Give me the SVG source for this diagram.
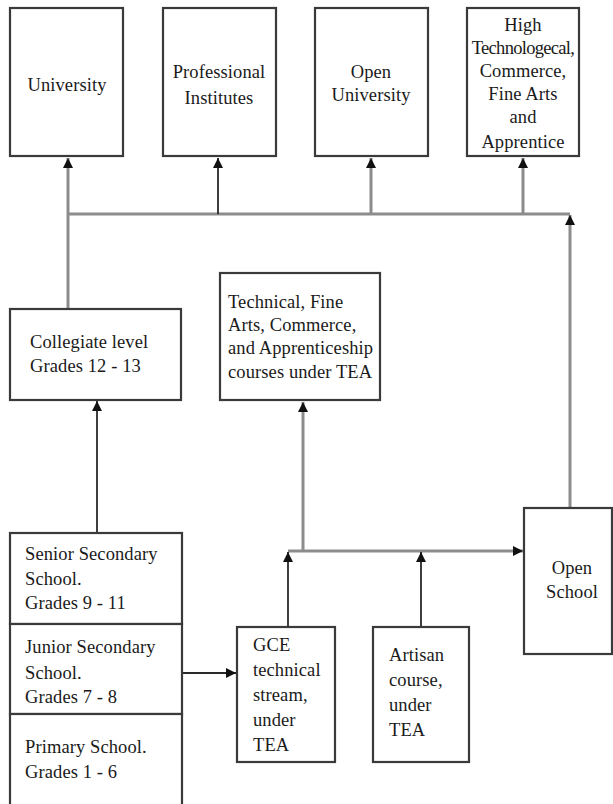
<svg xmlns="http://www.w3.org/2000/svg" width="613" height="804" viewBox="0 0 613 804">
<style>
.box{fill:#fff;stroke:#3a3a3a;stroke-width:2.2}
.t{font-family:"Liberation Serif","Times New Roman",serif;font-size:18.5px;fill:#1a1a1a;letter-spacing:0.1px}
.c{text-anchor:middle}
.g{stroke:#8c8c8c;stroke-width:3;fill:none}
.d{stroke:#2a2a2a;stroke-width:1.8;fill:none}
</style>
<defs>
<marker id="ah" viewBox="0 0 10 10" refX="10" refY="5" markerWidth="10" markerHeight="10" markerUnits="userSpaceOnUse" orient="auto">
<path d="M0,0 L10,5 L0,10 Z" fill="#111"/>
</marker>
</defs>
<g id="connectors">
<line class="g" x1="68" y1="214" x2="570" y2="214"/>
<line class="g" x1="68" y1="309" x2="68" y2="158" marker-end="url(#ah)"/>
<line class="d" x1="218" y1="214" x2="218" y2="158" marker-end="url(#ah)"/>
<line class="g" x1="371" y1="214" x2="371" y2="158" marker-end="url(#ah)"/>
<line class="g" x1="523" y1="214" x2="523" y2="158" marker-end="url(#ah)"/>
<line class="g" x1="570" y1="508" x2="570" y2="215" marker-end="url(#ah)"/>
<line class="d" x1="97" y1="533" x2="97" y2="401" marker-end="url(#ah)"/>
<line class="g" x1="303" y1="551" x2="303" y2="402" marker-end="url(#ah)"/>
<line class="g" x1="288" y1="551" x2="523" y2="551" marker-end="url(#ah)"/>
<line class="d" x1="288" y1="627" x2="288" y2="552" marker-end="url(#ah)"/>
<line class="d" x1="421" y1="627" x2="421" y2="552" marker-end="url(#ah)"/>
<line class="d" x1="182" y1="673" x2="236" y2="673" marker-end="url(#ah)"/>
</g>
<g id="university">
<rect class="box" x="10" y="8" width="113" height="148"/>
<text class="t c" x="67" y="91">University</text>
</g>
<g id="professional">
<rect class="box" x="163" y="8" width="113" height="148"/>
<text class="t c" x="219" y="78">Professional</text>
<text class="t c" x="219" y="104">Institutes</text>
</g>
<g id="open-university">
<rect class="box" x="315" y="8" width="113" height="148"/>
<text class="t c" x="371" y="78">Open</text>
<text class="t c" x="371" y="101">University</text>
</g>
<g id="high-tech">
<rect class="box" x="467" y="8" width="112" height="148"/>
<text class="t c" x="523" y="31">High</text>
<text class="t c" x="523" y="54" style="letter-spacing:-0.7px">Technologecal,</text>
<text class="t c" x="523" y="77">Commerce,</text>
<text class="t c" x="523" y="100">Fine Arts</text>
<text class="t c" x="523" y="123">and</text>
<text class="t c" x="523" y="148">Apprentice</text>
</g>
<g id="collegiate">
<rect class="box" x="10" y="309" width="171" height="91"/>
<text class="t" x="30" y="348">Collegiate level</text>
<text class="t" x="30" y="372">Grades 12 - 13</text>
</g>
<g id="technical">
<rect class="box" x="220" y="273" width="160" height="127"/>
<text class="t" x="228" y="308">Technical, Fine</text>
<text class="t" x="228" y="331">Arts, Commerce,</text>
<text class="t" x="228" y="354">and Apprenticeship</text>
<text class="t" x="228" y="378">courses under TEA</text>
</g>
<g id="senior">
<rect class="box" x="10" y="533" width="172" height="91"/>
<text class="t" x="25" y="560">Senior Secondary</text>
<text class="t" x="25" y="585">School.</text>
<text class="t" x="25" y="609">Grades 9 - 11</text>
</g>
<g id="junior">
<rect class="box" x="10" y="624" width="172" height="90"/>
<text class="t" x="25" y="653">Junior Secondary</text>
<text class="t" x="25" y="679">School.</text>
<text class="t" x="25" y="703">Grades 7 - 8</text>
</g>
<g id="primary">
<rect class="box" x="10" y="714" width="172" height="96"/>
<text class="t" x="25" y="753">Primary School.</text>
<text class="t" x="25" y="778">Grades 1 - 6</text>
</g>
<g id="gce">
<rect class="box" x="237" y="627" width="98" height="135"/>
<text class="t" x="253" y="651">GCE</text>
<text class="t" x="253" y="676">technical</text>
<text class="t" x="253" y="701">stream,</text>
<text class="t" x="253" y="726">under</text>
<text class="t" x="253" y="751">TEA</text>
</g>
<g id="artisan">
<rect class="box" x="373" y="627" width="96" height="135"/>
<text class="t" x="389" y="661">Artisan</text>
<text class="t" x="389" y="686">course,</text>
<text class="t" x="389" y="711">under</text>
<text class="t" x="389" y="736">TEA</text>
</g>
<g id="open-school">
<rect class="box" x="524" y="508" width="88" height="146"/>
<text class="t c" x="572" y="574">Open</text>
<text class="t c" x="572" y="598">School</text>
</g>
</svg>
